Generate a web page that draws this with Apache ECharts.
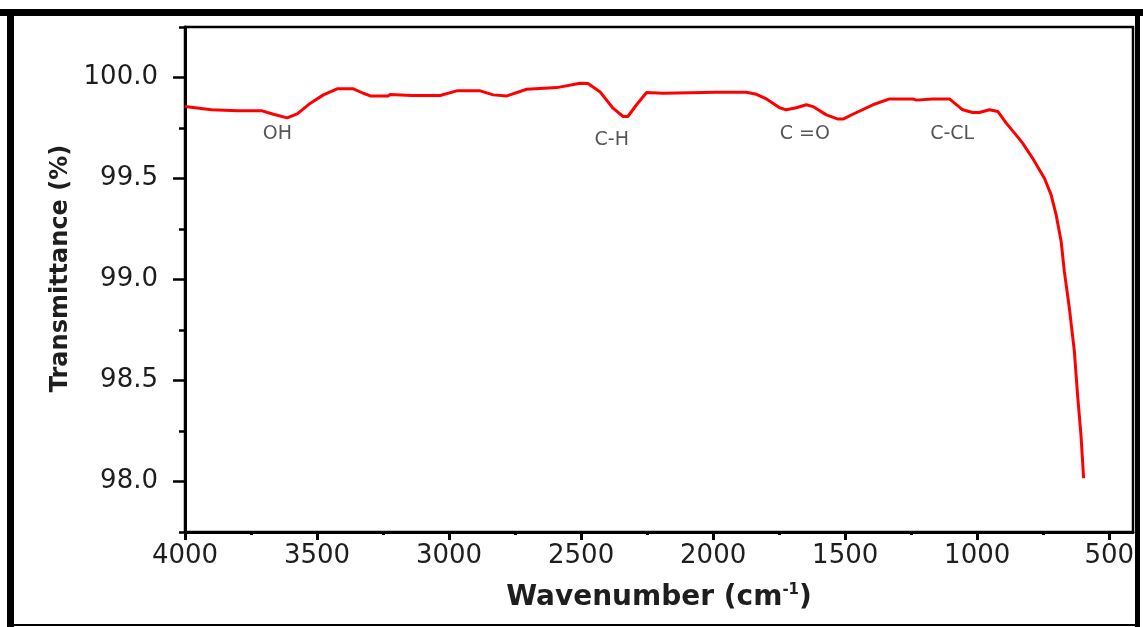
<!DOCTYPE html>
<html>
<head>
<meta charset="utf-8">
<script src="https://cdn.jsdelivr.net/npm/echarts@6/dist/echarts.min.js"></script>
<style>
html,body{margin:0;padding:0;background:#fff;}
#chart{width:1143px;height:627px;}
</style>
</head>
<body>
<div id="chart"></div>
<script>
// Wavenumber (cm-1) and transmittance (%)
const wavenumbers = [4000, 3900, 3800, 3708, 3665, 3613, 3575, 3525, 3476, 3424, 3362, 3325, 3298, 3231, 3223, 3141, 3034, 2971, 2882, 2833, 2781, 2706, 2592, 2504, 2474, 2429, 2379, 2341, 2323, 2290, 2252, 2190, 1987, 1874, 1836, 1798, 1748, 1723, 1685, 1647, 1622, 1571, 1527, 1508, 1471, 1395, 1332, 1244, 1231, 1168, 1105, 1055, 1017, 992, 954, 922, 890, 853, 828, 790, 745, 720, 701, 682, 670, 651, 632, 620, 607, 597];
const transmittance = [99.856, 99.840, 99.836, 99.835, 99.818, 99.800, 99.820, 99.873, 99.914, 99.944, 99.944, 99.922, 99.909, 99.909, 99.916, 99.911, 99.911, 99.934, 99.934, 99.914, 99.909, 99.942, 99.950, 99.972, 99.970, 99.930, 99.848, 99.807, 99.807, 99.865, 99.926, 99.922, 99.927, 99.927, 99.917, 99.894, 99.850, 99.840, 99.850, 99.865, 99.856, 99.815, 99.794, 99.794, 99.818, 99.865, 99.894, 99.894, 99.888, 99.894, 99.894, 99.840, 99.827, 99.827, 99.840, 99.832, 99.774, 99.716, 99.675, 99.600, 99.500, 99.419, 99.320, 99.188, 99.040, 98.858, 98.644, 98.430, 98.230, 98.016];

const xTickLabels = [4000, 3500, 3000, 2500, 2000, 1500, 1000, 500];
const xMinorTicks = [3750, 3250, 2750, 2250, 1750, 1250, 750];
const yTickLabels = [98.0, 98.5, 99.0, 99.5, 100.0];
const yMinorTicks = [97.75, 98.25, 98.75, 99.25, 99.75, 100.25];

const peakLabels = ['OH', 'C-H', 'C =O', 'C-CL'];
const peakLabelX = [3650, 2384, 1653, 1095];
const peakLabelY = [99.72, 99.688, 99.72, 99.72];

const series = wavenumbers.map((w, i) => [w, transmittance[i]]);

const chart = echarts.init(document.getElementById('chart'), null, {renderer: 'canvas'});
const FONT = 'DejaVu Sans';
chart.setOption({
  animation: false,
  backgroundColor: '#fff',
  grid: [{
    left: 185, top: 27, right: 10, bottom: 95,
    show: true, borderColor: '#000', borderWidth: 2.5, backgroundColor: 'transparent'
  }],
  xAxis: [{
    type: 'value', inverse: true, min: 410, max: 4000,
    splitLine: {show: false},
    axisLine: {show: true, onZero: false, lineStyle: {color: '#000', width: 3}},
    axisTick: {show: true, inside: false, length: 8, lineStyle: {color: '#000', width: 3}, customValues: xTickLabels},
    axisLabel: {show: true, customValues: xTickLabels, margin: 11, color: '#1e1e1e', fontFamily: FONT, fontSize: 26,
      formatter: v => String(v)},
    name: '{a|Wavenumber (cm}{s|-1}{a|)}',
    nameLocation: 'middle', nameGap: 51,
    nameTextStyle: {
      rich: {
        a: {fontFamily: FONT, fontWeight: 'bold', fontSize: 28, color: '#1e1e1e'},
        s: {fontFamily: FONT, fontWeight: 'bold', fontSize: 15, color: '#1e1e1e', verticalAlign: 'top', padding: [0,0,14,0]}
      }
    }
  }, {
    type: 'value', inverse: true, min: 410, max: 4000, gridIndex: 0, position: 'bottom',
    splitLine: {show: false},
    axisLine: {show: false, onZero: false},
    axisTick: {show: true, length: 3, lineStyle: {color: '#000', width: 3}, customValues: xMinorTicks},
    axisLabel: {show: false}
  }],
  yAxis: [{
    type: 'value', min: 97.75, max: 100.25,
    splitLine: {show: false},
    axisLine: {show: true, onZero: false, lineStyle: {color: '#000', width: 3}},
    axisTick: {show: true, length: 12, lineStyle: {color: '#000', width: 2.5}, customValues: yTickLabels},
    axisLabel: {show: true, customValues: yTickLabels, margin: 27, color: '#1e1e1e', fontFamily: FONT, fontSize: 26,
      formatter: v => v.toFixed(1)},
    name: 'Transmittance (%)',
    nameLocation: 'middle', nameGap: 112,
    nameTextStyle: {fontFamily: FONT, fontWeight: 'bold', fontSize: 24, color: '#1e1e1e', padding: [0, 0, 0, 22]}
  }, {
    type: 'value', min: 97.75, max: 100.25, gridIndex: 0, position: 'left',
    splitLine: {show: false},
    axisLine: {show: false, onZero: false},
    axisTick: {show: true, length: 6, lineStyle: {color: '#000', width: 2.5}, customValues: yMinorTicks},
    axisLabel: {show: false}
  }],
  series: [{
    type: 'line',
    data: series,
    showSymbol: false,
    symbol: 'none',
    lineStyle: {color: '#ff0000', width: 3},
    z: 3
  }, {
    type: 'scatter',
    data: peakLabelX.map((x, i) => ({value: [x, peakLabelY[i]], name: peakLabels[i]})),
    symbolSize: 0,
    itemStyle: {color: 'transparent'},
    label: {show: true, position: 'inside', formatter: p => p.name, fontFamily: FONT, fontSize: 19, color: '#2a2a2a'},
    silent: true,
    z: 4
  }],
  graphic: [
    {type: 'rect', shape: {x: 0, y: 9, width: 1143, height: 7}, style: {fill: '#000'}, silent: true},
    {type: 'rect', shape: {x: 7, y: 9, width: 7, height: 618}, style: {fill: '#000'}, silent: true},
    {type: 'rect', shape: {x: 1135, y: 9, width: 5, height: 618}, style: {fill: '#000'}, silent: true},
    {type: 'rect', shape: {x: 7, y: 624, width: 1133, height: 2}, style: {fill: '#000'}, silent: true}
  ]
});
</script>
</body>
</html>
